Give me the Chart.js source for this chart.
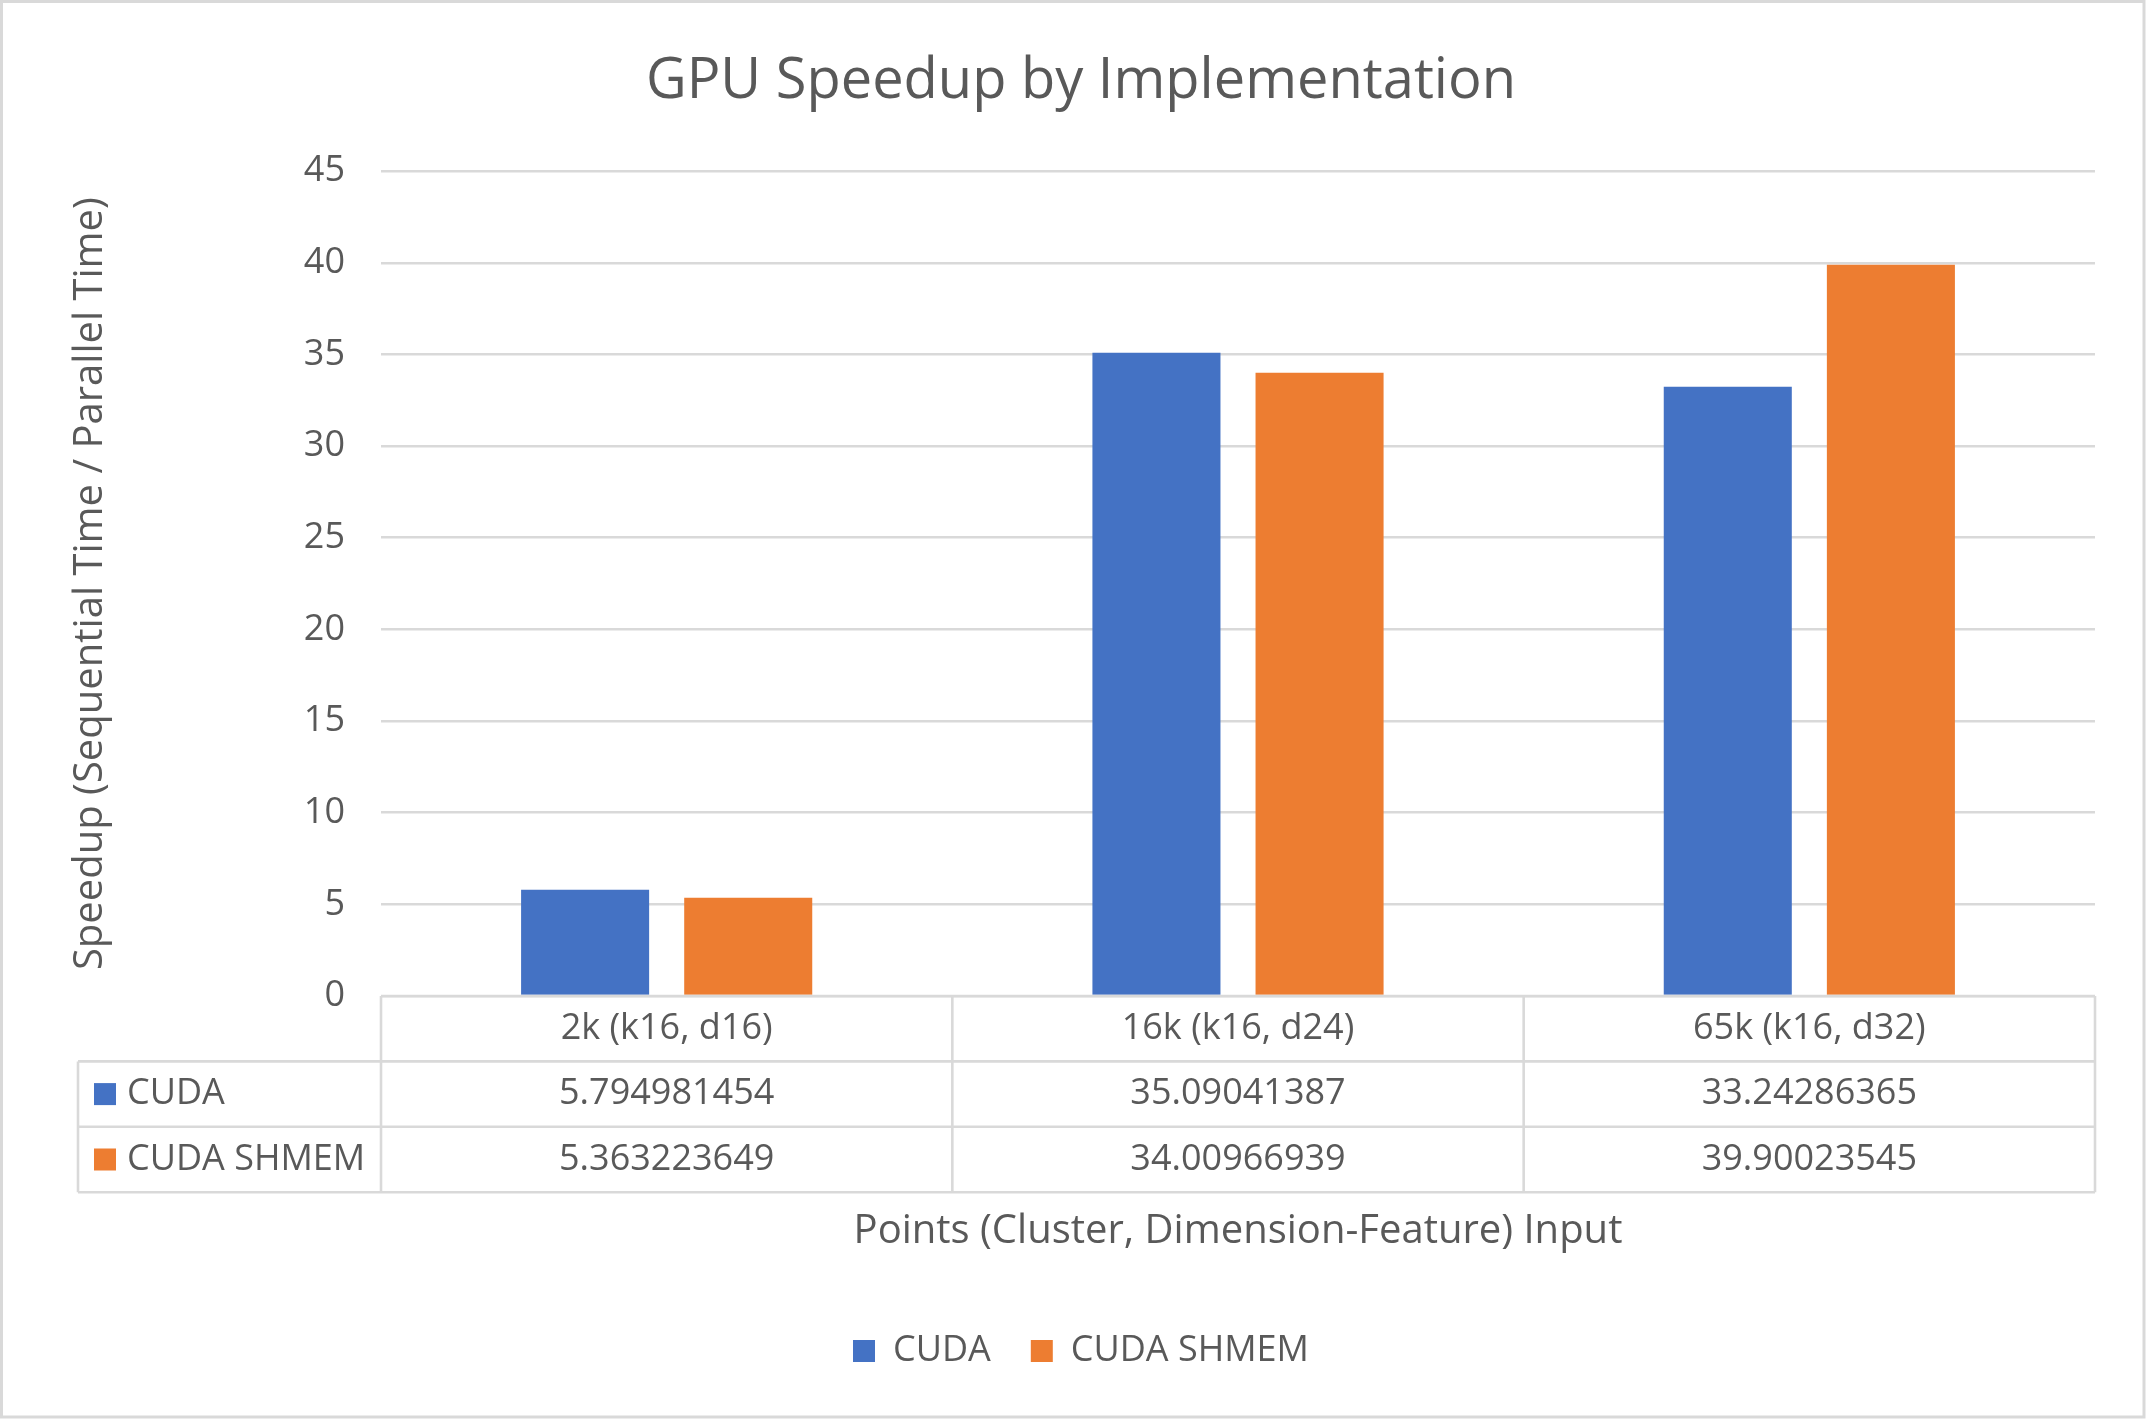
<!DOCTYPE html>
<html>
<head>
<meta charset="utf-8">
<script src="https://cdn.jsdelivr.net/npm/chart.js@4"></script>
<style>
  html, body { margin: 0; padding: 0; background: #ffffff; }
  canvas { display: block; }
</style>
</head>
<body>
<canvas id="c" width="2147" height="1419"></canvas>
<script>
// ---- data ----
const categories = ['2k (k16, d16)', '16k (k16, d24)', '65k (k16, d32)'];
const seriesNames = ['CUDA', 'CUDA SHMEM'];
const cudaValues = [5.794981454, 35.09041387, 33.24286365];
const shmemValues = [5.363223649, 34.00966939, 39.90023545];
const yTicks = [0, 5, 10, 15, 20, 25, 30, 35, 40, 45];
const chartTitle = 'GPU Speedup by Implementation';
const xTitle = 'Points (Cluster, Dimension-Feature) Input';
const yTitle = 'Speedup (Sequential Time / Parallel Time)';

// ---- style ----
const FONT = "'Open Sans', 'Noto Sans', sans-serif";
const TEXT = '#595959';
const LINE = '#d9d9d9';
const COLORS = ['#4472C4', '#ED7D31'];

const seriesValues = [cudaValues, shmemValues];

const frame = {
  id: 'frame',
  beforeDraw(chart) {
    const ctx = chart.ctx;
    ctx.save();
    ctx.fillStyle = '#ffffff';
    ctx.fillRect(0, 0, chart.width, chart.height);
    ctx.restore();
  },
  afterDraw(chart) {
    const ctx = chart.ctx;
    ctx.save();
    ctx.strokeStyle = LINE;
    ctx.lineWidth = 3;
    ctx.strokeRect(1.5, 1.5, chart.width - 4.5, chart.height - 3.5);
    ctx.restore();
  }
};

// data table drawn under the plot, using the category scale for columns
const dataTable = {
  id: 'dataTable',
  afterDraw(chart) {
    const ctx = chart.ctx;
    const xs = chart.scales.x;
    const area = chart.chartArea;
    const n = categories.length;
    const colW = (area.right - area.left) / n;
    const rowH = 65.4;
    const top = area.bottom;
    const tableLeft = 78;
    const rowsY = [top, top + rowH, top + 2 * rowH, top + 3 * rowH];

    ctx.save();
    ctx.strokeStyle = LINE;
    ctx.lineWidth = 2.6;
    ctx.beginPath();
    ctx.moveTo(area.left, rowsY[0]); ctx.lineTo(area.right, rowsY[0]);
    for (let r = 1; r < 4; r++) {
      ctx.moveTo(tableLeft, rowsY[r]); ctx.lineTo(area.right, rowsY[r]);
    }
    for (let i = 0; i <= n; i++) {
      const xv = i < n ? xs.getPixelForValue(i) - colW / 2 : xs.getPixelForValue(n - 1) + colW / 2;
      ctx.moveTo(xv, rowsY[0]); ctx.lineTo(xv, rowsY[3]);
    }
    ctx.moveTo(tableLeft, rowsY[1]); ctx.lineTo(tableLeft, rowsY[3]);
    ctx.stroke();

    ctx.fillStyle = TEXT;
    ctx.font = '36px ' + FONT;
    ctx.textAlign = 'center';
    ctx.textBaseline = 'middle';
    for (let i = 0; i < n; i++) {
      const cx = xs.getPixelForValue(i);
      ctx.fillText(categories[i], cx, rowsY[0] + rowH / 2);
      for (let s = 0; s < seriesValues.length; s++) {
        ctx.fillText(String(seriesValues[s][i]), cx, rowsY[s + 1] + rowH / 2);
      }
    }
    ctx.textAlign = 'left';
    for (let s = 0; s < seriesNames.length; s++) {
      const cy = rowsY[s + 1] + rowH / 2;
      ctx.fillStyle = COLORS[s];
      ctx.fillRect(94, cy - 11, 22, 22);
      ctx.fillStyle = TEXT;
      ctx.fillText(seriesNames[s], 127, cy);
    }
    ctx.restore();
  }
};

new Chart(document.getElementById('c'), {
  type: 'bar',
  data: {
    labels: categories,
    datasets: [
      { label: seriesNames[0], data: cudaValues, backgroundColor: COLORS[0], borderWidth: 0 },
      { label: seriesNames[1], data: shmemValues, backgroundColor: COLORS[1], borderWidth: 0 }
    ]
  },
  options: {
    responsive: false,
    animation: false,
    devicePixelRatio: 1,
    layout: { padding: { left: 67, right: 52, top: 0, bottom: 40 } },
    datasets: { bar: { categoryPercentage: 0.571, barPercentage: 0.785 } },
    plugins: {
      title: {
        display: true,
        text: chartTitle,
        color: TEXT,
        font: { family: FONT, size: 56, weight: 'normal', lineHeight: 1.2 },
        padding: { top: 48, bottom: 56 }
      },
      legend: {
        display: true,
        position: 'bottom',
        labels: {
          color: TEXT,
          font: { family: FONT, size: 36 },
          boxWidth: 22,
          boxHeight: 22,
          padding: 40
        }
      },
      tooltip: { enabled: false }
    },
    scales: {
      x: {
        ticks: { display: false },
        grid: { display: false },
        border: { display: false },
        title: {
          display: true,
          text: xTitle,
          color: TEXT,
          font: { family: FONT, size: 40, lineHeight: 1.2 },
          padding: { top: 0, bottom: 37 }
        },
        afterFit(scale) { scale.height = 297; }
      },
      y: {
        min: 0,
        max: 45,
        afterBuildTicks(scale) { scale.ticks = yTicks.map(v => ({ value: v })); },
        ticks: {
          color: TEXT,
          font: { family: FONT, size: 36 },
          padding: 36
        },
        grid: { color: LINE, lineWidth: 2.6, drawTicks: false },
        border: { display: false },
        title: {
          display: true,
          text: yTitle,
          color: TEXT,
          font: { family: FONT, size: 40, lineHeight: 1.2 },
          padding: { top: 0, bottom: 0 }
        },
        afterFit(scale) { scale.width = 314; }
      }
    }
  },
  plugins: [frame, dataTable]
});
</script>
</body>
</html>
